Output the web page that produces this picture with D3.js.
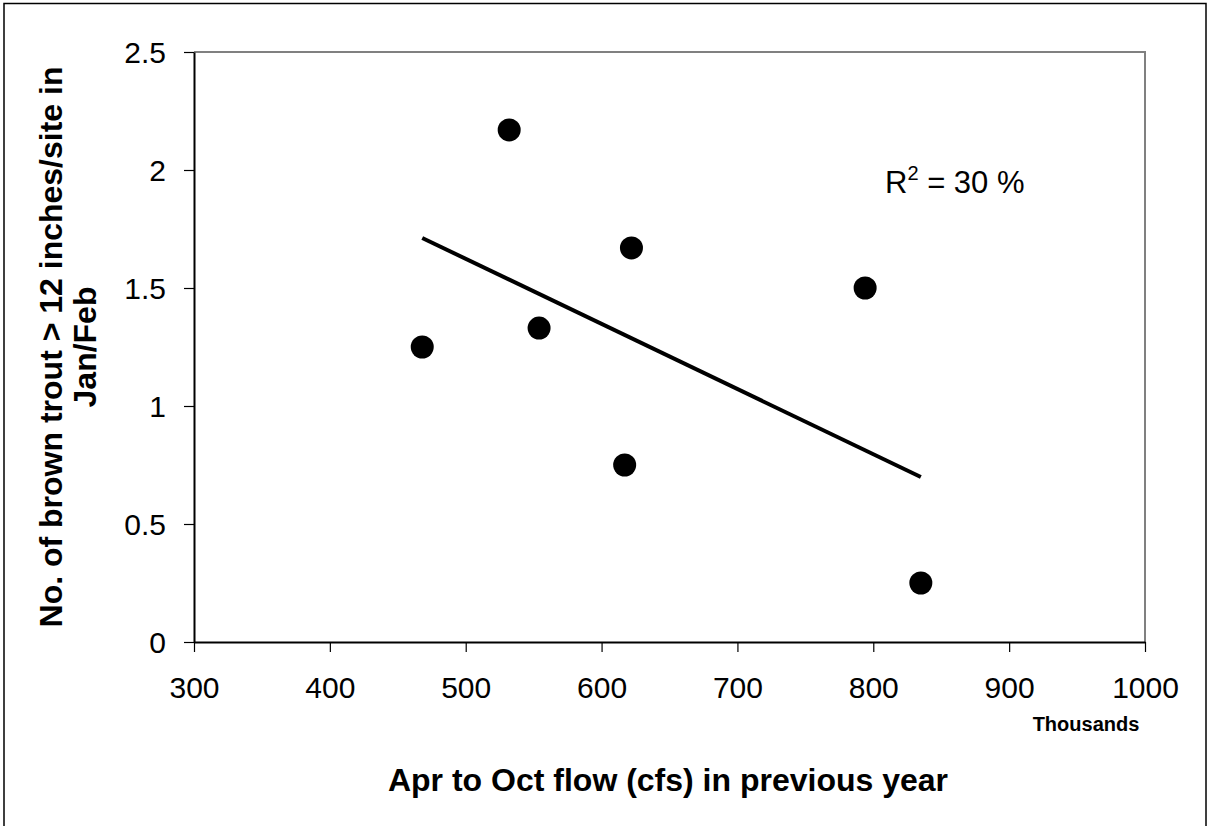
<!DOCTYPE html>
<html>
<head>
<meta charset="utf-8">
<script src="https://cdn.jsdelivr.net/npm/d3@7"></script>
<style>
  body { margin: 0; background: #fff; }
  text { font-family: "Liberation Sans", Arial, sans-serif; fill: #000; }
</style>
</head>
<body>
<div class="chart"></div>
<script>
// Data
const flow = [468, 532, 554, 617, 622, 794, 835];          // thousands cfs
const trout = [1.25, 2.17, 1.33, 0.75, 1.67, 1.5, 0.25];  // fish per site
const trendX = [468, 835];
const trendY = [1.712, 0.699];
const xTicks = [300, 400, 500, 600, 700, 800, 900, 1000];
const yTicks = [0, 0.5, 1, 1.5, 2, 2.5];

const width = 1207, height = 826;
const plot = {left: 194, right: 1145, top: 52, bottom: 642};

const svg = d3.select(".chart").append("svg")
  .attr("width", width)
  .attr("height", height);

// outer frame
svg.append("rect")
  .attr("x", 4).attr("y", 3.5)
  .attr("width", 1202).attr("height", 840)
  .attr("fill", "none")
  .attr("stroke", "#000")
  .attr("stroke-width", 1.5);

const xScale = d3.scaleLinear().domain([300, 1000]).range([plot.left, plot.right]);
const yScale = d3.scaleLinear().domain([0, 2.5]).range([plot.bottom, plot.top]);

// plot area border (top/right grey)
svg.append("path")
  .attr("d", `M${plot.left},${plot.top}H${plot.right}V${plot.bottom}`)
  .attr("fill", "none")
  .attr("stroke", "#808080")
  .attr("stroke-width", 2);

const xAxis = d3.axisBottom(xScale).tickValues(xTicks).tickSize(10).tickPadding(12).tickSizeOuter(0)
  .tickFormat(d3.format("d"));
const yAxis = d3.axisLeft(yScale).tickValues(yTicks).tickSize(10).tickPadding(18).tickSizeOuter(0)
  .tickFormat(d3.format("~g"));

const gx = svg.append("g")
  .attr("transform", `translate(0,${plot.bottom})`)
  .call(xAxis);
const gy = svg.append("g")
  .attr("transform", `translate(${plot.left},0)`)
  .call(yAxis);

[gx, gy].forEach(g => {
  g.select(".domain").attr("stroke", "#000").attr("stroke-width", 2);
  g.selectAll(".tick line").attr("stroke", "#000").attr("stroke-width", 1.2);
  g.selectAll(".tick text")
    .attr("font-family", "Liberation Sans, Arial, sans-serif")
    .attr("font-size", 30)
    .attr("fill", "#000");
});
gx.selectAll(".tick text").attr("dy", null).attr("y", 56);
gy.selectAll(".tick text").attr("dy", "0.36em");

// trend line
svg.append("line")
  .attr("x1", xScale(trendX[0])).attr("y1", yScale(trendY[0]))
  .attr("x2", xScale(trendX[1])).attr("y2", yScale(trendY[1]))
  .attr("stroke", "#000")
  .attr("stroke-width", 4);

// points
svg.selectAll("circle.pt")
  .data(flow.map((f, i) => ({f, t: trout[i]})))
  .enter().append("circle")
  .attr("class", "pt")
  .attr("cx", d => xScale(d.f))
  .attr("cy", d => yScale(d.t))
  .attr("r", 11.5)
  .attr("fill", "#000");

// R squared label
const r2 = svg.append("text")
  .attr("x", 885).attr("y", 193)
  .attr("font-size", 31);
r2.append("tspan").text("R");
r2.append("tspan").attr("font-size", 20).attr("dy", -13).text("2");
r2.append("tspan").attr("dy", 13).text(" = 30 %");

// units note
svg.append("text")
  .attr("x", 1086).attr("y", 731)
  .attr("text-anchor", "middle")
  .attr("font-size", 20)
  .attr("font-weight", "bold")
  .text("Thousands");

// axis titles
svg.append("text")
  .attr("x", 668).attr("y", 791)
  .attr("text-anchor", "middle")
  .attr("font-size", 32)
  .attr("font-weight", "bold")
  .text("Apr to Oct flow (cfs) in previous year");

const yTitle = svg.append("text")
  .attr("transform", "translate(62,347) rotate(-90)")
  .attr("text-anchor", "middle")
  .attr("font-size", 32)
  .attr("font-weight", "bold");
yTitle.append("tspan").attr("x", 0).attr("y", 0).text("No. of brown trout > 12 inches/site in");
yTitle.append("tspan").attr("x", 0).attr("y", 34).text("Jan/Feb");
</script>
</body>
</html>
